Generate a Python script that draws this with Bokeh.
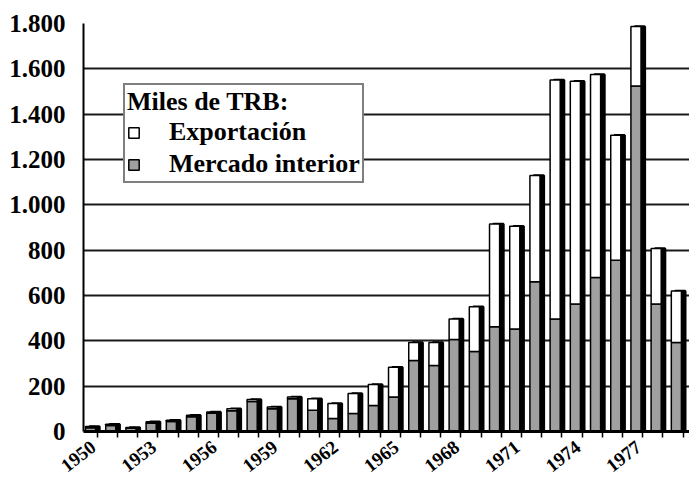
from bokeh.plotting import figure
from bokeh.models import ColumnDataSource, FixedTicker, Legend, LegendItem, LinearAxis, Range1d
from bokeh.transform import dodge, stack
from bokeh.embed import file_html
from bokeh.resources import INLINE

years = list(range(1950, 1980))
interior = [17, 26, 14, 36, 44, 65, 80, 92, 132, 100, 145, 94, 57, 79, 115, 152, 313, 291,
            406, 353, 462, 452, 661, 496, 562, 679, 756, 1524, 562, 393]
export = [5, 6, 4, 7, 6, 7, 6, 8, 9, 8, 7, 51, 66, 89, 92, 131, 80, 102,
          90, 197, 453, 453, 468, 1055, 983, 896, 551, 263, 245, 227]
label_years = [1950, 1953, 1956, 1959, 1962, 1965, 1968, 1971, 1974, 1977]
y_ticks = [0, 200, 400, 600, 800, 1000, 1200, 1400, 1600, 1800]
y_labels = ["0", "200", "400", "600", "800", "1.000", "1.200", "1.400", "1.600", "1.800"]

src = ColumnDataSource(dict(year=years, interior=interior, export=export))

FONT = "Liberation Serif"
X0, X1 = 1949.32, 1979.32
LABEL_SHIFT = 0.2  # rotated labels hang down-left of their tick

p = figure(frame_width=606, frame_height=408, x_range=(X0, X1), y_range=(0, 1800),
           output_backend="svg", toolbar_location=None, x_axis_location=None,
           min_border_left=83, min_border_right=0, min_border_top=23, min_border_bottom=47)
p.outline_line_color = None
p.background_fill_color = "white"
p.xgrid.grid_line_color = None
p.ygrid.ticker = FixedTicker(ticks=y_ticks)
p.ygrid.grid_line_color = "#1a1a1a"
p.ygrid.grid_line_width = 2

# 3D shadow behind bars
p.vbar(x=dodge("year", -0.14, range=p.x_range), width=0.5, bottom=0,
       top=stack("interior", "export"), source=src,
       fill_color="black", line_color="black", line_width=2.5)

rs = p.vbar_stack(["interior", "export"], x=dodge("year", -0.33, range=p.x_range), width=0.5,
                  source=src, fill_color=["#a0a0a0", "white"], line_color="black", line_width=1.5)

yax = p.yaxis[0]
yax.ticker = FixedTicker(ticks=y_ticks)
yax.major_label_overrides = {t: l for t, l in zip(y_ticks, y_labels)}
yax.axis_line_width = 2
yax.axis_line_color = "black"
yax.major_tick_out = 0
yax.major_tick_in = 0
yax.minor_tick_out = 0
yax.minor_tick_in = 0
yax.major_label_text_font = FONT
yax.major_label_text_font_style = "bold"
yax.major_label_text_font_size = "25px"
yax.major_label_text_color = "black"
yax.major_label_standoff = 18

# axis with the year ticks (ticks only)
xax = LinearAxis(ticker=FixedTicker(ticks=[], minor_ticks=years))
xax.axis_line_width = 3
xax.axis_line_color = "black"
xax.minor_tick_out = 6
xax.minor_tick_in = 0
xax.minor_tick_line_width = 1.5
xax.major_label_standoff = 0
p.add_layout(xax, "below")

# axis carrying the rotated year labels
p.extra_x_ranges = {"labels": Range1d(X0 + LABEL_SHIFT, X1 + LABEL_SHIFT)}
lax = LinearAxis(x_range_name="labels", ticker=FixedTicker(ticks=label_years))
lax.axis_line_color = None
lax.major_tick_line_color = None
lax.minor_tick_line_color = None
lax.major_tick_out = 0
lax.major_tick_in = 0
lax.major_label_orientation = 0.66
lax.major_label_standoff = 7
lax.major_label_text_font = FONT
lax.major_label_text_font_style = "bold"
lax.major_label_text_font_size = "19px"
lax.major_label_text_color = "black"
p.add_layout(lax, "below")

legend = Legend(items=[LegendItem(label="Exportación", renderers=[rs[1]]),
                       LegendItem(label="Mercado interior", renderers=[rs[0]])],
                title="Miles de TRB:", location=(40, 248), orientation="vertical")
legend.title_text_font = FONT
legend.title_text_font_style = "bold"
legend.title_text_font_size = "26px"
legend.title_text_color = "black"
legend.title_text_line_height = 1.0
legend.title_standoff = -12
legend.label_text_font = FONT
legend.label_text_font_style = "bold"
legend.label_text_font_size = "26px"
legend.label_text_color = "black"
legend.label_text_line_height = 1.0
legend.label_height = 24
legend.label_standoff = 29
legend.glyph_height = 13
legend.glyph_width = 13
legend.spacing = 2
legend.padding = 2
legend.margin = 0
legend.border_line_color = "black"
legend.border_line_width = 2
legend.background_fill_alpha = 1
p.add_layout(legend)

open("out.html", "w").write(file_html(p, INLINE))
